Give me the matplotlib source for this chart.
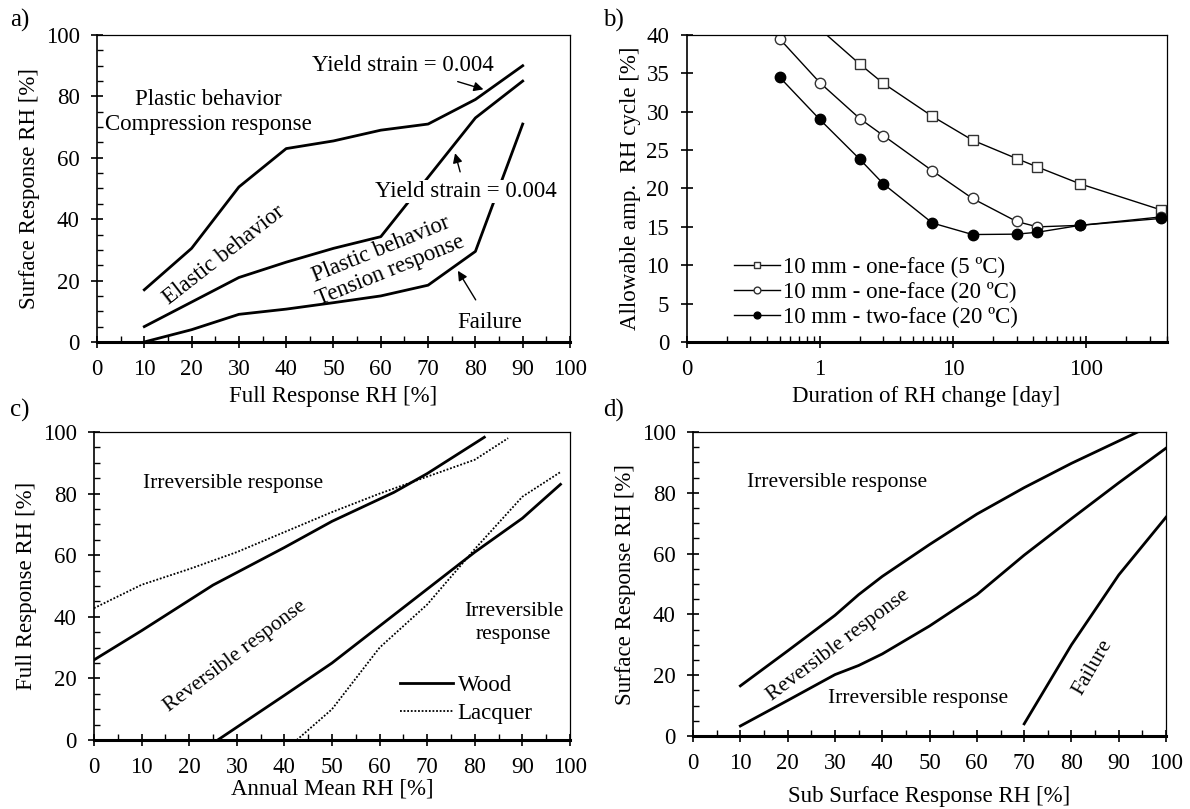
import numpy as np
import matplotlib
matplotlib.use('Agg')
import matplotlib.pyplot as plt
from matplotlib.ticker import MultipleLocator, FixedLocator, NullFormatter

plt.rcParams['font.family'] = ['Liberation Serif', 'DejaVu Serif']
plt.rcParams['font.size'] = 16.5

# ---- a) surface vs full response
a_x = [10, 20, 30, 40, 50, 60, 70, 80, 90]
a_comp = [17, 30.5, 50.5, 63, 65.5, 69, 71, 79, 90]
a_tens_x = [10, 20, 30, 40, 50, 60, 80, 90]
a_tens = [5, 13, 21, 26, 30.5, 34.3, 73, 85]
a_fail = [0, 4, 9, 10.7, 12.8, 15, 18.5, 29.5, 71]

# ---- b) allowable amplitude vs duration
b_days = [0.5, 1, 2, 3, 7, 14, 30, 43, 90, 365]
b_sq_days = [1, 2, 3, 7, 14, 30, 43, 90, 365]
b_one5 = [40.8, 36.2, 33.7, 29.4, 26.3, 23.9, 22.8, 20.6, 17.2]
b_one20 = [39.5, 33.8, 29.1, 26.9, 22.3, 18.7, 15.7, 15.0, 15.2, 16.3]
b_two20 = [34.5, 29.0, 23.8, 20.6, 15.5, 14.0, 14.05, 14.3, 15.2, 16.1]
b_labels = ['10 mm - one-face (5 ºC)', '10 mm - one-face (20 ºC)', '10 mm - two-face (20 ºC)']

# ---- c) full response vs annual mean
c_wood_up_x = [0, 10, 25, 40, 50, 63, 70, 82]
c_wood_up = [26, 35.5, 50.3, 62.5, 71, 80.4, 86.5, 98.3]
c_wood_lo_x = [26, 40, 50, 60, 70, 80, 90, 98]
c_wood_lo = [0, 14.5, 25, 37, 49, 61, 72, 83]
c_lac_up_x = [0, 10, 20, 30, 40, 50, 60, 70, 80, 87]
c_lac_up = [42.8, 50.4, 55.5, 61, 67.5, 74, 80, 85.5, 91, 98]
c_lac_lo_x = [42.6, 50, 60, 70, 80, 90, 98]
c_lac_lo = [0, 10, 30, 44, 62, 79, 87]

# ---- d) surface vs sub surface response
d_up_x = [10, 20, 30, 35, 40, 50, 60, 70, 80, 94]
d_up = [16.5, 28, 39.7, 46.5, 52.5, 63, 73, 81.7, 89.7, 100]
d_mid_x = [10, 20, 30, 35, 40, 50, 60, 70, 80, 90, 100]
d_mid = [3.3, 11.7, 20.2, 23.2, 27, 36.2, 46.5, 59.5, 71.5, 83.3, 94.7]
d_fail_x = [70, 80, 90, 100]
d_fail = [4, 30, 53, 72]

fig = plt.figure(figsize=(11.9, 8.09), dpi=100)
ax_a = fig.add_axes([0.0815, 0.5773, 0.3975, 0.3794])
ax_b = fig.add_axes([0.5769, 0.5773, 0.4034, 0.3794])
ax_c = fig.add_axes([0.079, 0.0853, 0.400, 0.3807])
ax_d = fig.add_axes([0.5824, 0.0902, 0.3975, 0.3758])


def style(ax):
    ax.tick_params(which='major', direction='inout', length=9, width=1.2, pad=8)
    ax.tick_params(which='minor', direction='in', length=4.5, width=1.0)
    ax.tick_params(top=False, right=False)
    ax.spines['bottom'].set_linewidth(2.2)
    ax.spines['left'].set_linewidth(1.2)
    ax.spines['top'].set_linewidth(0.9)
    ax.spines['right'].set_linewidth(0.9)


def lin_axes(ax):
    ax.set_xlim(0, 100)
    ax.set_ylim(0, 100)
    ax.xaxis.set_major_locator(MultipleLocator(10))
    ax.xaxis.set_minor_locator(MultipleLocator(5))
    ax.yaxis.set_major_locator(MultipleLocator(20))
    ax.yaxis.set_minor_locator(MultipleLocator(5))
    style(ax)


# a)
lw = 2.0
ax_a.plot(a_x, a_comp, color='black', lw=lw)
ax_a.plot(a_tens_x, a_tens, color='black', lw=lw)
ax_a.plot(a_x, a_fail, color='black', lw=lw, clip_on=False)
lin_axes(ax_a)
ax_a.set_xlabel('Full Response RH [%]')
ax_a.set_ylabel('Surface Response RH [%]')
ax_a.text(23.6, 75, 'Plastic behavior\nCompression response', ha='center', va='center',
          linespacing=1.25)
ax_a.text(26.9, 28.3, 'Elastic behavior', rotation=38, ha='center', va='center',
          rotation_mode='anchor')
ax_a.text(61, 26.7, 'Plastic behavior\nTension response', rotation=22, ha='center',
          va='center', rotation_mode='anchor', linespacing=1.15)
ax_a.annotate('Yield strain = 0.004', xy=(81.7, 82.3), xytext=(64.7, 90.2),
              ha='center', va='center',
              arrowprops=dict(arrowstyle='-|>', color='black', lw=1.0,
                              shrinkA=8, shrinkB=0, mutation_scale=14))
ax_a.annotate('Yield strain = 0.004', xy=(75.7, 61.5), xytext=(77.9, 49),
              ha='center', va='center',
              bbox=dict(boxstyle='square,pad=0.05', fc='white', ec='none'),
              arrowprops=dict(arrowstyle='-|>', color='black', lw=1.0,
                              shrinkA=6, shrinkB=0, mutation_scale=14))
ax_a.annotate('Failure', xy=(76.3, 23.2), xytext=(83, 6.3), ha='center', va='center',
              arrowprops=dict(arrowstyle='-|>', color='black', lw=1.0,
                              shrinkA=8, shrinkB=0, mutation_scale=14))

# b)
lw_b = 1.0
ax_b.plot(b_sq_days, b_one5, color='black', lw=lw_b, marker='s', ms=7.5,
          mfc='white', mec='#333333', mew=1.0, label=b_labels[0])
ax_b.plot(b_days, b_one20, color='black', lw=lw_b, marker='o', ms=7.5,
          mfc='white', mec='#333333', mew=1.0, label=b_labels[1])
ax_b.plot(b_days, b_two20, color='black', lw=lw_b, marker='o', ms=7.5,
          mfc='black', mec='black', label=b_labels[2])
ax_b.set_xscale('log')
ax_b.set_xlim(0.1, 400)
ax_b.set_ylim(0, 40)
ax_b.xaxis.set_major_locator(FixedLocator([0.1, 1, 10, 100]))
ax_b.set_xticklabels(['0', '1', '10', '100'])
minors = [m * 10.0 ** e for e in range(-1, 3) for m in range(2, 10)]
ax_b.xaxis.set_minor_locator(FixedLocator([v for v in minors if v <= 400]))
ax_b.xaxis.set_minor_formatter(NullFormatter())
ax_b.yaxis.set_major_locator(MultipleLocator(5))
style(ax_b)
ax_b.set_xlabel('Duration of RH change [day]')
ax_b.set_ylabel('Allowable amp.  RH cycle [%]')
ax_b.legend(loc='lower left', bbox_to_anchor=(0.07, 0.0), frameon=False,
            markerscale=0.65, handlelength=2.0, handletextpad=0.15,
            labelspacing=0.18, borderpad=0.1)

# c)
ann = 15.5
ax_c.plot(c_wood_up_x, c_wood_up, color='black', lw=lw, label='Wood')
ax_c.plot(c_wood_lo_x, c_wood_lo, color='black', lw=lw)
ax_c.plot(c_lac_up_x, c_lac_up, color='black', lw=1.3, ls=(0, (1, 1)), label='Lacquer')
ax_c.plot(c_lac_lo_x, c_lac_lo, color='black', lw=1.3, ls=(0, (1, 1)))
lin_axes(ax_c)
ax_c.set_xlabel('Annual Mean RH [%]', labelpad=0)
ax_c.set_ylabel('Full Response RH [%]')
ax_c.text(29.2, 83.4, 'Irreversible response', ha='center', va='center', fontsize=ann)
ax_c.text(29.8, 27.1, 'Reversible response', rotation=37, ha='center', va='center',
          rotation_mode='anchor', fontsize=ann)
ax_c.text(88.1, 38, 'Irreversible\nresponse', ha='center', va='center', linespacing=1.3,
          fontsize=ann)
ax_c.legend(loc='lower right', bbox_to_anchor=(0.965, -0.015), frameon=False,
            handlelength=2.3, handletextpad=0.2, labelspacing=0.3)

# d)
ax_d.plot(d_up_x, d_up, color='black', lw=lw)
ax_d.plot(d_mid_x, d_mid, color='black', lw=lw)
ax_d.plot(d_fail_x, d_fail, color='black', lw=lw)
lin_axes(ax_d)
ax_d.set_xlabel('Sub Surface Response RH [%]', labelpad=8)
ax_d.set_ylabel('Surface Response RH [%]')
ax_d.text(30.4, 83.4, 'Irreversible response', ha='center', va='center', fontsize=ann)
ax_d.text(30.8, 29.8, 'Reversible response', rotation=37, ha='center', va='center',
          rotation_mode='anchor', fontsize=ann)
ax_d.text(47.6, 12.3, 'Irreversible response', ha='center', va='center', fontsize=ann)
ax_d.text(84.4, 22.7, 'Failure', rotation=60, ha='center', va='center',
          rotation_mode='anchor', fontsize=ann)

for lab, (x, y) in zip(['a)', 'b)', 'c)', 'd)'],
                       [(10, 20), (603, 20), (10, 410), (603, 410)]):
    fig.text(x / 1190, 1 - y / 809, lab, ha='left', va='center', fontsize=18)

fig.savefig('out.png', dpi=100)
